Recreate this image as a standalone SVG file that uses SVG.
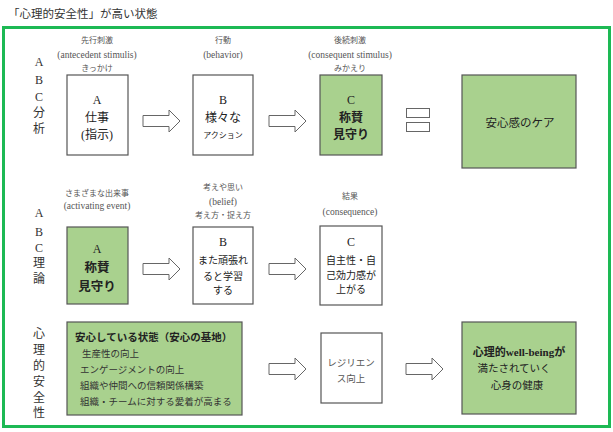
<svg xmlns="http://www.w3.org/2000/svg" width="613" height="432" viewBox="0 0 613 432">
<defs>
<style>
text{font-family:"Liberation Serif","Noto Sans CJK JP",serif;fill:#222}
.lbl{font-size:9.5px;fill:#555;text-anchor:middle}
.jl{font-size:8px}
.side{font-size:12px;fill:#333;text-anchor:middle}
.main{font-size:12px;text-anchor:middle}
.sm{font-size:10px}
.b{font-weight:bold}
.box{fill:#fff;stroke:#555;stroke-width:1.2}
.gbox{fill:#A9D18E;stroke:#555;stroke-width:1.2}
.arr{fill:#fff;stroke:#666;stroke-width:1}
.item{font-size:9.5px;fill:#333}
</style>
<polygon id="ar" points="0,5.5 26,5.5 26,0 37,11 26,22 26,16.5 0,16.5"/>
</defs>
<rect x="0" y="0" width="613" height="432" fill="#fff"/>
<text x="8" y="18" style="font-size:11.5px;fill:#333">「心理的安全性」が高い状態</text>
<rect x="3.5" y="27.5" width="606" height="399" fill="none" stroke="#1DB954" stroke-width="3"/>

<g id="side-labels">
<text class="side" x="39" y="66">A</text>
<text class="side" x="39" y="84">B</text>
<text class="side" x="39" y="101">C</text>
<text class="side" x="39" y="117">分</text>
<text class="side" x="39" y="133">析</text>
<text class="side" x="39" y="217">A</text>
<text class="side" x="39" y="236">B</text>
<text class="side" x="39" y="252">C</text>
<text class="side" x="39" y="267">理</text>
<text class="side" x="39" y="283">論</text>
<text class="side" x="39" y="338">心</text>
<text class="side" x="39" y="354">理</text>
<text class="side" x="39" y="370">的</text>
<text class="side" x="39" y="386">安</text>
<text class="side" x="39" y="402">全</text>
<text class="side" x="39" y="417">性</text>
</g>

<g id="connectors">
<use href="#ar" class="arr" x="143" y="110"/>
<use href="#ar" class="arr" x="269" y="110"/>
<use href="#ar" class="arr" x="143" y="258"/>
<use href="#ar" class="arr" x="269" y="258"/>
<use href="#ar" class="arr" x="269" y="358"/>
<use href="#ar" class="arr" x="406" y="358"/>
<rect class="arr" x="406.5" y="108.5" width="23" height="9"/>
<rect class="arr" x="406.5" y="122.5" width="23" height="9"/>
</g>

<g id="r1-a">
<text class="lbl jl" x="97" y="43">先行刺激</text>
<text class="lbl" x="97" y="58">(antecedent stimulis)</text>
<text class="lbl jl" x="97" y="71">きっかけ</text>
<rect class="box" x="67" y="75" width="61" height="80"/>
<text class="main" x="97" y="104">A</text>
<text class="main" x="97" y="122">仕事</text>
<text class="main" x="97" y="139">(指示)</text>
</g>
<g id="r1-b">
<text class="lbl jl" x="223" y="43">行動</text>
<text class="lbl" x="223" y="58">(behavior)</text>
<rect class="box" x="193" y="75" width="60" height="80"/>
<text class="main" x="223" y="104">B</text>
<text class="main" x="223" y="122">様々な</text>
<text class="main" x="223" y="138" style="font-size:8px">アクション</text>
</g>
<g id="r1-c">
<text class="lbl jl" x="350" y="43">後続刺激</text>
<text class="lbl" x="350" y="58">(consequent stimulus)</text>
<text class="lbl jl" x="350" y="71">みかえり</text>
<rect class="gbox" x="320" y="75" width="62" height="80"/>
<text class="main" x="351" y="104">C</text>
<text class="main b" x="351" y="122">称賛</text>
<text class="main b" x="351" y="139">見守り</text>
</g>
<g id="r1-care">
<rect class="gbox" x="462" y="75" width="114" height="93"/>
<text class="main" x="520" y="127" style="font-size:11.5px">安心感のケア</text>
</g>

<g id="r2-a">
<text class="lbl jl" x="97" y="196">さまざまな出来事</text>
<text class="lbl" x="97" y="209">(activating event)</text>
<rect class="gbox" x="67" y="227" width="61" height="77"/>
<text class="main" x="97" y="253">A</text>
<text class="main b" x="97" y="272" style="font-size:12.5px">称賛</text>
<text class="main b" x="97" y="291" style="font-size:12.5px">見守り</text>
</g>
<g id="r2-b">
<text class="lbl jl" x="223" y="190">考えや思い</text>
<text class="lbl" x="223" y="205">(belief)</text>
<text class="lbl jl" x="223" y="218">考え方・捉え方</text>
<rect class="box" x="193" y="227" width="60" height="77"/>
<text class="main" x="223" y="246">B</text>
<text class="main sm" x="223" y="264">また頑張れ</text>
<text class="main sm" x="223" y="280">ると学習</text>
<text class="main sm" x="223" y="294">する</text>
</g>
<g id="r2-c">
<text class="lbl jl" x="350" y="199">結果</text>
<text class="lbl" x="350" y="215">(consequence)</text>
<rect class="box" x="320" y="226" width="62" height="79"/>
<text class="main" x="351" y="246">C</text>
<text class="main sm" x="351" y="264">自主性・自</text>
<text class="main sm" x="351" y="279">己効力感が</text>
<text class="main sm" x="351" y="293">上がる</text>
</g>

<g id="r3-base">
<rect class="gbox" x="67" y="322" width="175" height="93"/>
<text x="75" y="341" class="b" style="font-size:10.5px">安心している状態（安心の基地）</text>
<text class="item" x="82" y="357">生産性の向上</text>
<text class="item" x="80" y="373">エンゲージメントの向上</text>
<text class="item" x="80" y="389">組織や仲間への信頼関係構築</text>
<text class="item" x="80" y="405">組織・チームに対する愛着が高まる</text>
</g>
<g id="r3-res">
<rect class="box" x="321" y="333" width="61" height="70"/>
<text class="main" x="351" y="366" style="font-size:9.5px;fill:#555">レジリエン</text>
<text class="main" x="351" y="382" style="font-size:9.5px;fill:#555">ス向上</text>
</g>
<g id="r3-wb">
<rect class="gbox" x="462" y="322" width="114" height="92"/>
<text class="main b" x="519" y="356" style="font-size:11px">心理的well-beingが</text>
<text class="main" x="514" y="372" style="font-size:10.5px">満たされていく</text>
<text class="main" x="517" y="389" style="font-size:10.5px">心身の健康</text>
</g>
</svg>
